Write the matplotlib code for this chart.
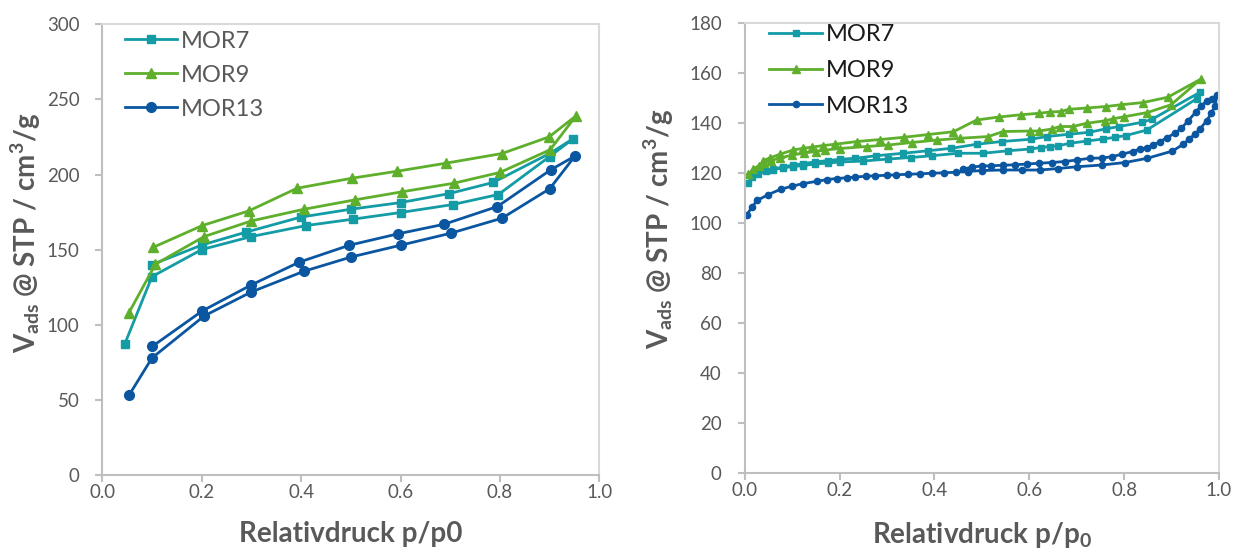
import matplotlib
matplotlib.use("Agg")
import matplotlib.pyplot as plt
from matplotlib.ticker import MultipleLocator, FormatStrFormatter

plt.rcParams['font.family'] = ['Lato', 'DejaVu Sans']
plt.rcParams['mathtext.default'] = 'regular'

# ---------------- Left chart data ----------------
L_series = ['MOR7', 'MOR9', 'MOR13']

L_mor7_x = [0.045, 0.1, 0.2, 0.3, 0.41, 0.505, 0.6, 0.705, 0.797, 0.9, 0.948,
            0.9, 0.786, 0.698, 0.6, 0.5, 0.399, 0.289, 0.2, 0.1]
L_mor7_y = [87, 132, 150, 158.7, 166, 170.3, 174.7, 180, 186.7, 212, 224,
            214, 194.7, 187.3, 181.3, 176.9, 171.6, 161.6, 153, 140]

L_mor9_x = [0.053, 0.107, 0.205, 0.3, 0.406, 0.508, 0.603, 0.707, 0.8, 0.901, 0.953,
            0.899, 0.804, 0.692, 0.593, 0.503, 0.392, 0.295, 0.201, 0.103]
L_mor9_y = [107.6, 140.3, 158.7, 169.1, 176.9, 183.1, 188.5, 194.2, 201.4, 216.5, 239.1,
            225.1, 214, 207.6, 202.2, 197.6, 190.9, 175.8, 166, 151.6]

L_mor13_x = [0.054, 0.1, 0.205, 0.3, 0.406, 0.501, 0.6, 0.701, 0.804, 0.9, 0.951,
             0.902, 0.795, 0.688, 0.595, 0.497, 0.396, 0.3, 0.201, 0.101]
L_mor13_y = [53.1, 77.8, 105.8, 121.8, 135.6, 145.1, 152.9, 160.9, 170.9, 190.5, 212.3,
             203.1, 178.7, 166.9, 160.5, 152.9, 141.6, 126.5, 109.1, 85.6]

# ---------------- Right chart data ----------------
R_mor7_x = [0.008, 0.015, 0.029, 0.046, 0.06, 0.081, 0.102, 0.124, 0.148, 0.176, 0.201,
            0.25, 0.303, 0.35, 0.394, 0.45, 0.502, 0.556, 0.602, 0.625, 0.644, 0.661,
            0.686, 0.722, 0.756, 0.781, 0.804, 0.848, 0.953, 0.96,
            0.859, 0.838, 0.79, 0.762, 0.727, 0.684, 0.637, 0.603, 0.542, 0.489,
            0.436, 0.387, 0.334, 0.277, 0.233, 0.201, 0.176, 0.148, 0.124, 0.102,
            0.081, 0.06]
R_mor7_y = [116.2, 118.5, 119.8, 120.8, 121.4, 122.1, 122.6, 123.0, 123.6, 124.0, 124.4,
            124.8, 125.6, 126.2, 126.9, 127.9, 127.9, 128.9, 129.6, 130.2, 130.6, 130.9,
            131.9, 132.8, 133.6, 134.3, 135.0, 137.2, 149.7, 152.3,
            141.5, 140.3, 138.6, 137.7, 136.3, 135.5, 134.6, 133.5, 132.6, 131.5,
            129.9, 128.9, 127.9, 126.9, 125.9, 125.5, 125.0, 124.4, 123.8, 123.2,
            122.4, 121.6]

R_mor9_x = [0.008, 0.018, 0.03, 0.04, 0.055, 0.075, 0.10, 0.125, 0.15, 0.17, 0.2,
            0.257, 0.303, 0.352, 0.406, 0.454, 0.514, 0.545, 0.602, 0.621, 0.647,
            0.665, 0.692, 0.721, 0.76, 0.777, 0.80, 0.849, 0.899, 0.962,
            0.892, 0.840, 0.793, 0.762, 0.721, 0.684, 0.666, 0.644, 0.621, 0.582,
            0.536, 0.489, 0.44, 0.387, 0.336, 0.286, 0.237, 0.19, 0.166, 0.143,
            0.124, 0.102, 0.074, 0.053, 0.039]
R_mor9_y = [119.5, 121.5, 123.0, 124.0, 125.0, 126.0, 127.2, 128.0, 128.6, 129.2, 129.8,
            130.6, 131.2, 132.2, 133.2, 133.9, 134.6, 136.6, 136.8, 136.8, 137.6,
            138.6, 138.6, 139.9, 140.9, 141.7, 142.5, 144.2, 147.3, 157.6,
            150.3, 148.2, 147.3, 146.6, 146.0, 145.5, 144.6, 144.4, 143.9, 143.3,
            142.4, 141.2, 136.5, 135.4, 134.3, 133.4, 132.6, 131.5, 131.0, 130.4,
            129.9, 129.2, 127.5, 126.0, 125.0]

R_mor13_x = [0.005, 0.015, 0.027, 0.05, 0.076, 0.099, 0.124, 0.153, 0.174, 0.194, 0.215,
             0.233, 0.255, 0.275, 0.3, 0.32, 0.345, 0.37, 0.395, 0.42, 0.445, 0.47,
             0.5, 0.545, 0.585, 0.623, 0.661, 0.7, 0.753, 0.802, 0.849, 0.902, 0.925,
             0.937, 0.949, 0.96, 0.974, 0.984, 0.992, 0.996,
             0.985, 0.974, 0.963, 0.951, 0.935, 0.921, 0.907, 0.89, 0.876, 0.862,
             0.848, 0.834, 0.818, 0.795, 0.774, 0.753, 0.728, 0.7, 0.675, 0.647,
             0.62, 0.595, 0.57, 0.545, 0.52, 0.5, 0.48, 0.46]
R_mor13_y = [103.3, 106.4, 109.1, 111.4, 113.5, 114.7, 115.8, 116.7, 117.4, 117.8, 118.1,
             118.4, 118.7, 118.9, 119.1, 119.3, 119.5, 119.7, 119.9, 120.1, 120.3, 120.6,
             121.0, 121.2, 121.2, 121.2, 121.8, 122.5, 123.2, 124.2, 125.9, 128.8, 131.5,
             133.6, 135.5, 137.6, 140.9, 143.9, 147.0, 151.3,
             149.5, 148.7, 147.0, 144.3, 140.9, 137.9, 135.9, 134.1, 132.6, 131.2,
             130.2, 129.6, 128.6, 127.5, 126.5, 126.0, 125.9, 125.2, 124.6, 124.2,
             123.9, 123.6, 123.3, 123.1, 122.9, 122.8, 122.4, 121.5]

C_TEAL = '#139ca5'
C_GREEN = '#5eaf2b'
C_BLUE = '#0b56a1'
TXT = '#595959'
SPINE = '#bfbfbf'

fig = plt.figure(figsize=(12.37, 5.52), dpi=100)
axL = fig.add_axes([0.0827, 0.140, 0.4018, 0.8157])
axR = fig.add_axes([0.6020, 0.1431, 0.3834, 0.8152])

# Left plot
axL.plot(L_mor7_x, L_mor7_y, color=C_TEAL, lw=2.0, marker='s', ms=5.5, label=L_series[0])
axL.plot(L_mor9_x, L_mor9_y, color=C_GREEN, lw=2.0, marker='^', ms=6.5, label=L_series[1])
axL.plot(L_mor13_x, L_mor13_y, color=C_BLUE, lw=2.0, marker='o', ms=7, label=L_series[2])
axL.set_xlim(0, 1.0)
axL.set_ylim(0, 300)
axL.xaxis.set_major_locator(MultipleLocator(0.2))
axL.yaxis.set_major_locator(MultipleLocator(50))
axL.xaxis.set_major_formatter(FormatStrFormatter('%.1f'))

# Right plot
axR.plot(R_mor7_x, R_mor7_y, color=C_TEAL, lw=2.0, marker='s', ms=5, label=L_series[0])
axR.plot(R_mor9_x, R_mor9_y, color=C_GREEN, lw=2.0, marker='^', ms=5.5, label=L_series[1])
axR.plot(R_mor13_x, R_mor13_y, color=C_BLUE, lw=2.0, marker='o', ms=4.5, label=L_series[2])
axR.set_xlim(0, 1.0)
axR.set_ylim(0, 180)
axR.xaxis.set_major_locator(MultipleLocator(0.2))
axR.yaxis.set_major_locator(MultipleLocator(20))
axR.xaxis.set_major_formatter(FormatStrFormatter('%.1f'))

for ax in (axL, axR):
    for s in ax.spines.values():
        s.set_color('#d9d9d9')
        s.set_linewidth(1.5)
    ax.spines['left'].set_color(SPINE)
    ax.spines['bottom'].set_color(SPINE)
    ax.tick_params(axis='both', direction='out', length=5, width=1.5, color=SPINE,
                   labelcolor=TXT, labelsize=13.5)
    ax.tick_params(axis='y', pad=11.5)
    ax.tick_params(axis='x', pad=1.5)

ylab = r'V$_\mathregular{ads}$ @ STP / cm$^\mathregular{3}$/g'
axL.set_ylabel(ylab, fontsize=20, fontweight='bold', color=TXT)
axR.set_ylabel(ylab, fontsize=20, fontweight='bold', color=TXT)
axL.yaxis.set_label_coords(-0.12, 0.537)
axR.yaxis.set_label_coords(-0.145, 0.543)
axL.set_xlabel('Relativdruck p/p0', fontsize=20, fontweight='bold', color=TXT)
axR.set_xlabel(r'Relativdruck p/p$_\mathregular{0}$', fontsize=20, fontweight='bold', color=TXT)
axL.xaxis.set_label_coords(0.5, -0.102)
axR.xaxis.set_label_coords(0.5, -0.105)

legL = axL.legend(loc='upper left', bbox_to_anchor=(0.0457, 0.986), frameon=False,
                  fontsize=17, handlelength=2.2, handletextpad=0.17, labelspacing=0.55,
                  borderaxespad=0, borderpad=0)
for t in legL.get_texts():
    t.set_color(TXT)
legR = axR.legend(loc='upper left', bbox_to_anchor=(0.0512, 0.997), frameon=False,
                  fontsize=17, handlelength=2.25, handletextpad=0.17, labelspacing=0.62,
                  borderaxespad=0, borderpad=0)
for t in legR.get_texts():
    t.set_color('#1a1a1a')

fig.savefig('out.png', dpi=100)
